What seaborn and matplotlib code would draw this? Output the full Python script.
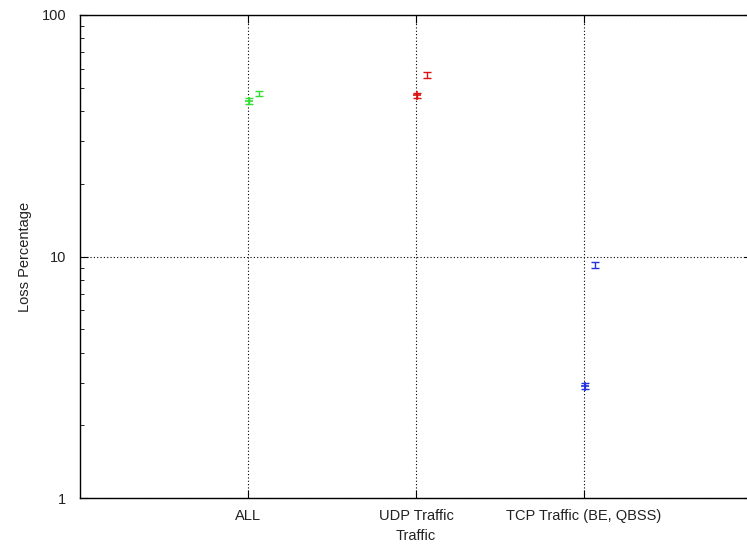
import matplotlib
matplotlib.use("Agg")
import matplotlib.pyplot as plt
import matplotlib.ticker as mticker
import numpy as np
import pandas as pd
import seaborn as sns

# Loss measurements per traffic class (two runs each)
categories = ["ALL", "UDP Traffic", "TCP Traffic (BE, QBSS)"]
run1_loss = [44.0, 46.5, 2.9]
run2_loss = [47.3, 56.5, 9.2]
run1_err = [1.2, 1.2, 0.08]
run2_err = [1.3, 1.6, 0.25]
run_offsets = [0.006, 0.066]
series_colors = ["#33dd33", "#dd1111", "#2233dd"]

sns.set_style("white")
plt.rcParams["font.family"] = ["Liberation Sans", "DejaVu Sans"]

rows = []
for i, c in enumerate(categories):
    rows.append(dict(category=c, pos=i + 1 + run_offsets[0], loss=run1_loss[i], err=run1_err[i], run="run1"))
    rows.append(dict(category=c, pos=i + 1 + run_offsets[1], loss=run2_loss[i], err=run2_err[i], run="run2"))
df = pd.DataFrame(rows)

fig = plt.figure(figsize=(7.47, 5.45), dpi=100)
ax = fig.add_axes([80 / 747, 1 - 498 / 545, (752 - 80) / 747, (498 - 15) / 545])

palette = dict(zip(categories, series_colors))
sns.scatterplot(data=df[df["run"] == "run1"], x="pos", y="loss", hue="category", palette=palette,
                marker="+", s=40, linewidth=1.2, legend=False, ax=ax, zorder=3)
for _, r in df.iterrows():
    ax.errorbar(r["pos"], r["loss"], yerr=r["err"], fmt="none", ecolor=palette[r["category"]],
                elinewidth=1.0, capsize=3, capthick=1.0, zorder=3)

ax.set_yscale("log")
ax.set_ylim(1, 100)
ax.set_xlim(0, 4)
ax.set_xticks([1, 2, 3])
ax.set_xticklabels(categories)
ax.yaxis.set_major_locator(mticker.FixedLocator([1, 10, 100]))
ax.yaxis.set_major_formatter(mticker.FixedFormatter(["1", "10", "100"]))
ax.yaxis.set_minor_locator(mticker.LogLocator(base=10, subs=np.arange(2, 10)))
ax.yaxis.set_minor_formatter(mticker.NullFormatter())

ax.tick_params(axis="both", which="both", left=True, bottom=True, right=True, top=True)
ax.tick_params(axis="both", which="major", direction="in", length=6, width=0.8,
               labelsize=10.5, colors="black", labelcolor="#222222", pad=10)
ax.tick_params(axis="y", which="minor", direction="in", length=3, width=0.6, colors="black")
ax.tick_params(axis="x", which="major", pad=8)

ax.grid(True, which="major", axis="both", color="black", linestyle=(0, (1, 2)), linewidth=0.8)
for s in ax.spines.values():
    s.set_color("black")
    s.set_linewidth(1.0)

ax.set_xlabel("Traffic", fontsize=10.5, color="#222222", labelpad=4)
ax.set_ylabel("Loss Percentage", fontsize=10.5, color="#222222", labelpad=7)

fig.savefig("out.png", dpi=100, facecolor="white")
